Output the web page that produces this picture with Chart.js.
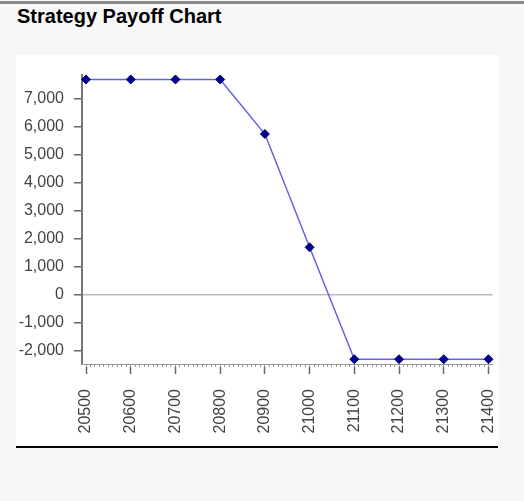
<!DOCTYPE html>
<html>
<head>
<meta charset="utf-8">
<script src="https://cdn.jsdelivr.net/npm/chart.js@4"></script>
<style>
  html, body { margin: 0; padding: 0; background: #f7f7f7; }
  body { width: 524px; height: 501px; position: relative; overflow: hidden; font-family: "Liberation Sans", Arial, sans-serif; }
  #topline { position: absolute; left: 0; top: 1px; width: 524px; height: 3px; background: #8a8a8a; }
  #title { position: absolute; left: 17px; top: 5px; font-size: 20px; font-weight: bold; color: #000; }
  #panel { position: absolute; left: 16px; top: 55px; width: 482px; height: 392px; background: #fff; }
  #bottomline { position: absolute; left: 16px; top: 446px; width: 482px; height: 2px; background: #000; }
</style>
</head>
<body>
<div id="topline"></div>
<div id="title">Strategy Payoff Chart</div>
<div id="panel"><canvas id="payoffChart" width="482" height="392"></canvas></div>
<div id="bottomline"></div>
<script>
  var strikes = [20500, 20600, 20700, 20800, 20900, 21000, 21100, 21200, 21300, 21400];
  var payoff = [7700, 7700, 7700, 7700, 5750, 1700, -2300, -2300, -2300, -2300];
  var yTicks = [-2000, -1000, 0, 1000, 2000, 3000, 4000, 5000, 6000, 7000];
  var minorStep = 10;

  var ctx = document.getElementById("payoffChart").getContext("2d");

  // no extra side padding for the bottom axes
  function noSidePad(scale) {
    scale.paddingLeft = 0;
    scale.paddingRight = 0;
  }

  var myChart = new Chart(ctx, {
    type: "line",
    data: {
      datasets: [{
        label: "Payoff",
        data: strikes.map(function (s, i) { return { x: s, y: payoff[i] }; }),
        borderColor: "#6464e0",
        borderWidth: 1.5,
        pointStyle: "rectRot",
        pointRadius: 4.5,
        pointBackgroundColor: "#00008b",
        pointBorderColor: "#00008b",
        pointBorderWidth: 1,
        tension: 0,
        clip: false
      }]
    },
    options: {
      responsive: false,
      animation: false,
      events: [],
      layout: { padding: { top: 20, right: 3, left: 0, bottom: 0 } },
      plugins: { legend: { display: false }, tooltip: { enabled: false } },
      scales: {
        x: {
          type: "linear",
          position: "bottom",
          weight: 1,
          min: 20491,
          max: 21409,
          afterBuildTicks: function (scale) {
            scale.ticks = strikes.map(function (v) { return { value: v }; });
          },
          afterFit: function (scale) { scale.height = 80; noSidePad(scale); },
          border: { display: false },
          grid: { drawOnChartArea: false, tickColor: "#666", tickLength: 7, tickWidth: 1.5 },
          ticks: {
            maxRotation: 90,
            minRotation: 90,
            padding: 15,
            color: "#444",
            font: { family: "Liberation Sans", size: 16 },
            callback: function (v) { return String(v); }
          }
        },
        x2: {
          type: "linear",
          position: "bottom",
          weight: 0,
          min: 20491,
          max: 21409,
          afterBuildTicks: function (scale) {
            var t = [];
            for (var v = strikes[0]; v <= strikes[strikes.length - 1]; v += minorStep) t.push({ value: v });
            scale.ticks = t;
          },
          afterFit: function (scale) { scale.height = 3; noSidePad(scale); },
          border: { color: "#999", width: 1 },
          grid: { drawOnChartArea: false, tickColor: "#999", tickLength: 3, tickWidth: 1 },
          ticks: { display: false }
        },
        y: {
          min: -2470,
          max: 7860,
          afterBuildTicks: function (scale) {
            scale.ticks = yTicks.map(function (v) { return { value: v }; });
          },
          afterFit: function (scale) { scale.width = 66; },
          border: { color: "#777", width: 2 },
          grid: {
            color: function (c) { return c.tick && c.tick.value === 0 ? "#bbb" : "rgba(0,0,0,0)"; },
            tickColor: "#666",
            tickLength: 8,
            lineWidth: 1.5
          },
          ticks: {
            padding: 10,
            color: "#444",
            font: { family: "Liberation Sans", size: 16 },
            callback: function (v) { return v.toLocaleString("en-US"); }
          }
        }
      }
    }
  });
</script>
</body>
</html>
